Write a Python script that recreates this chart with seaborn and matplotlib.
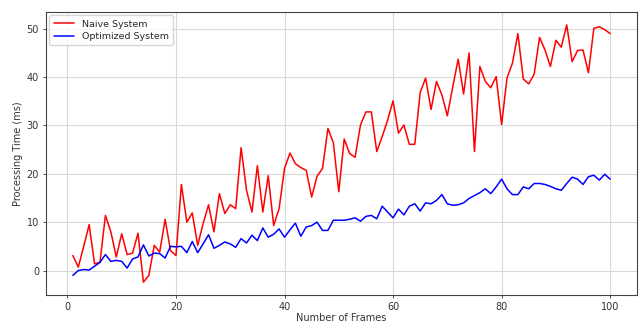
import numpy as np
import pandas as pd
import matplotlib
matplotlib.use("Agg")
import matplotlib.pyplot as plt
import seaborn as sns

# =============================
# DATA
# =============================

frames = list(range(1, 101))

naive_ms = [
    3.1, 0.7, 5.0, 9.5, 1.4, 1.7, 11.4, 8.0, 2.8, 7.6,
    3.3, 3.6, 7.7, -2.4, -1.0, 5.2, 3.8, 10.6, 4.1, 3.1,
    17.8, 10.0, 11.9, 5.2, 9.7, 13.6, 8.0, 15.9, 11.8, 13.6,
    12.8, 25.4, 16.6, 12.1, 21.7, 12.1, 19.6, 9.3, 12.8, 21.1,
    24.3, 22.1, 21.3, 20.7, 15.2, 19.5, 21.1, 29.4, 26.4, 16.3,
    27.2, 24.2, 23.4, 30.1, 32.8, 32.8, 24.6, 27.7, 31.1, 35.1,
    28.4, 30.1, 26.1, 26.1, 36.8, 39.8, 33.3, 39.1, 36.3, 32.0,
    38.0, 43.7, 36.5, 45.0, 24.6, 42.2, 39.1, 37.8, 40.1, 30.2,
    39.8, 42.9, 49.0, 39.6, 38.6, 40.6, 48.2, 45.6, 42.2, 47.6,
    46.2, 50.8, 43.2, 45.5, 45.6, 40.9, 50.1, 50.4, 49.8, 49.0,
]

optimized_ms = [
    -1.0, 0.0, 0.2, 0.1, 0.9, 1.7, 3.3, 1.9, 2.1, 1.9,
    0.5, 2.4, 2.8, 5.3, 3.0, 3.6, 3.5, 2.6, 5.0, 4.9,
    5.0, 3.7, 6.0, 3.7, 5.5, 7.4, 4.6, 5.2, 5.9, 5.5,
    4.8, 6.6, 5.7, 7.3, 6.2, 8.8, 6.9, 7.5, 8.6, 6.9,
    8.4, 9.8, 7.1, 9.0, 9.3, 10.0, 8.3, 8.3, 10.4, 10.4,
    10.4, 10.6, 10.9, 10.2, 11.2, 11.4, 10.7, 13.3, 12.1, 10.9,
    12.7, 11.5, 13.3, 13.8, 12.3, 14.0, 13.8, 14.5, 15.7, 13.8,
    13.5, 13.6, 14.0, 14.9, 15.5, 16.1, 16.9, 15.9, 17.3, 18.9,
    16.9, 15.7, 15.7, 17.3, 16.9, 18.0, 18.0, 17.8, 17.4, 16.9,
    16.6, 18.0, 19.3, 18.9, 17.8, 19.4, 19.7, 18.7, 19.9, 18.9,
]

series_names = ["Naive System", "Optimized System"]
series_colors = ["red", "blue"]

df = pd.DataFrame({
    "Number of Frames": frames * 2,
    "Processing Time (ms)": naive_ms + optimized_ms,
    "System": [series_names[0]] * len(frames) + [series_names[1]] * len(frames),
})

# =============================
# PLOT
# =============================

sns.set_style("ticks")
plt.rcParams["font.family"] = ["DejaVu Sans"]

fig = plt.figure(figsize=(6.39, 3.24), dpi=100)
ax = fig.add_axes([46 / 639, 1 - 295 / 324, (637 - 46) / 639, (295 - 12) / 324])

sns.lineplot(
    data=df,
    x="Number of Frames",
    y="Processing Time (ms)",
    hue="System",
    palette=dict(zip(series_names, series_colors)),
    errorbar=None,
    linewidth=1.1,
    ax=ax,
)

ax.grid(True, color="#d9d9d9", linewidth=0.8)
ax.set_axisbelow(True)
for side in ax.spines.values():
    side.set_color("#444444")
    side.set_linewidth(0.8)

ax.set_xticks([0, 20, 40, 60, 80, 100])
ax.set_yticks([0, 10, 20, 30, 40, 50])
ax.tick_params(labelsize=7, length=2.5, width=0.6, pad=2.5, colors="#333333")
ax.set_xlabel("Number of Frames", fontsize=7, color="#333333", labelpad=1)
ax.set_ylabel("Processing Time (ms)", fontsize=7, color="#333333", labelpad=3)

leg = ax.legend(loc="upper left", fontsize=6.8, frameon=True, handlelength=2.2,
                borderpad=0.45, labelspacing=0.35, borderaxespad=0.35)
leg.get_frame().set_edgecolor("#cccccc")
leg.set_title(None)

fig.savefig("out.png", dpi=100)
